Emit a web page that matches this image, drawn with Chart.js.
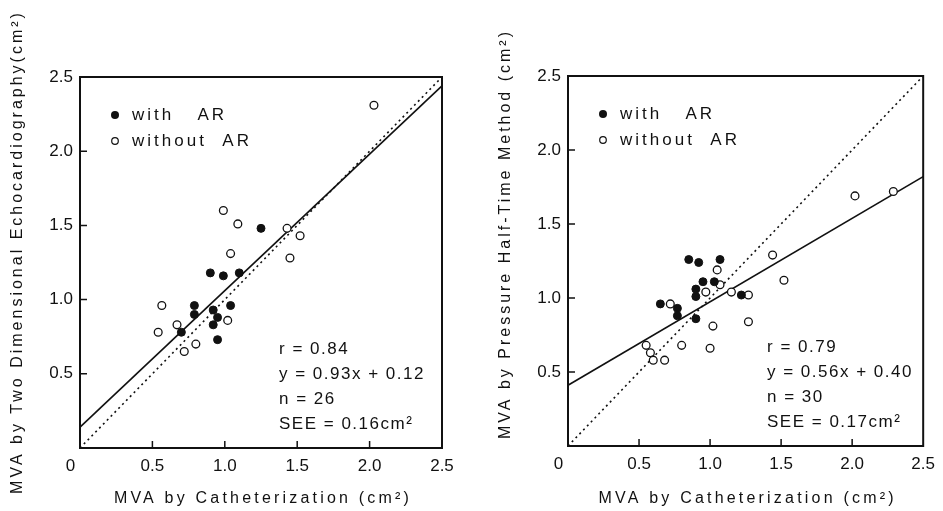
<!DOCTYPE html>
<html>
<head>
<meta charset="utf-8">
<script src="https://cdn.jsdelivr.net/npm/chart.js@4.4.1/dist/chart.umd.min.js"></script>
<style>
  html, body { margin: 0; padding: 0; background: #fff; }
  #wrap { position: relative; width: 943px; height: 511px; }
  canvas { position: absolute; top: 0; }
</style>
</head>
<body>
<div id="wrap">
  <canvas id="left" width="471" height="511" style="left:0"></canvas>
  <canvas id="right" width="472" height="511" style="left:471px"></canvas>
</div>
<script>
const xTicks = [0, 0.5, 1.0, 1.5, 2.0, 2.5];
const yTicks = [0.5, 1.0, 1.5, 2.0, 2.5];

// left panel: 2D echo vs catheterization
const echoWithX = [1.25, 0.90, 0.99, 1.10, 0.79, 0.79, 0.92, 0.95, 0.92, 1.04, 0.95, 0.70];
const echoWithY = [1.48, 1.18, 1.16, 1.18, 0.96, 0.90, 0.93, 0.88, 0.83, 0.96, 0.73, 0.78];
const echoWithoutX = [0.99, 1.09, 1.43, 1.52, 1.45, 1.04, 0.565, 1.02, 0.67, 0.54, 0.80, 0.72, 2.03];
const echoWithoutY = [1.60, 1.51, 1.48, 1.43, 1.28, 1.31, 0.96, 0.86, 0.83, 0.78, 0.70, 0.65, 2.31];
const echoFitX = [0, 2.5];
const echoFitY = [0.14, 2.44];

// right panel: pressure half-time vs catheterization
const phtWithX = [0.85, 0.92, 1.07, 0.95, 1.03, 0.90, 0.90, 0.65, 0.77, 0.77, 0.90, 1.22];
const phtWithY = [1.26, 1.24, 1.26, 1.11, 1.11, 1.06, 1.01, 0.96, 0.93, 0.88, 0.86, 1.02];
const phtWithoutX = [1.05, 1.07, 0.97, 1.15, 0.72, 1.02, 0.80, 1.00, 0.55, 0.58, 0.60, 0.68, 2.02, 2.29, 1.44, 1.52, 1.27, 1.27];
const phtWithoutY = [1.19, 1.09, 1.04, 1.04, 0.96, 0.81, 0.68, 0.66, 0.68, 0.63, 0.58, 0.58, 1.69, 1.72, 1.29, 1.12, 1.02, 0.84];
const phtFitX = [0, 2.5];
const phtFitY = [0.41, 1.82];

const identityX = [0, 2.5];
const identityY = [0, 2.5];

const FONT = '"Liberation Sans", Arial, Helvetica, sans-serif';
Chart.defaults.font.family = FONT;
Chart.defaults.color = '#111';

function pts(xs, ys) {
    return xs.map((x, i) => ({ x: x, y: ys[i] }));
}

// box, inward ticks, titles, legend and stats text
const framePlugin = {
    id: 'frame',
    afterDraw(chart, args, o) {
        const { ctx, chartArea: a, scales } = chart;
        ctx.save();
        ctx.strokeStyle = '#111';
        ctx.lineWidth = 2;
        ctx.strokeRect(a.left, a.top, a.right - a.left, a.bottom - a.top);

        ctx.lineWidth = 1.5;
        ctx.beginPath();
        xTicks.forEach(v => {
            if (v === 0 || v === 2.5) return;
            const px = scales.x.getPixelForValue(v);
            ctx.moveTo(px, a.bottom);
            ctx.lineTo(px, a.bottom - 7);
        });
        yTicks.forEach(v => {
            if (v === 2.5) return;
            const py = scales.y.getPixelForValue(v);
            ctx.moveTo(a.left, py);
            ctx.lineTo(a.left + 7, py);
        });
        ctx.stroke();

        ctx.fillStyle = '#111';
        ctx.textBaseline = 'middle';

        // axis titles
        ctx.font = '16px ' + FONT;
        ctx.letterSpacing = '3.2px';
        ctx.textAlign = 'center';
        ctx.fillText(o.xTitle, (a.left + a.right) / 2 + 2, 499);
        ctx.letterSpacing = '3px';
        ctx.save();
        ctx.translate(a.left - 62, o.yTitleY);
        ctx.rotate(-Math.PI / 2);
        ctx.fillText(o.yTitle, 0, 0);
        ctx.restore();

        // legend
        const lx = a.left + 35;
        const ly = a.top + o.legendTop;
        ctx.beginPath();
        ctx.arc(lx, ly, 4, 0, Math.PI * 2);
        ctx.fill();
        ctx.beginPath();
        ctx.lineWidth = 1.2;
        ctx.arc(lx, ly + 26, 3.3, 0, Math.PI * 2);
        ctx.stroke();
        ctx.font = '17px ' + FONT;
        ctx.letterSpacing = '3px';
        ctx.textAlign = 'left';
        ctx.fillText('with   AR', lx + 17, ly);
        ctx.fillText('without  AR', lx + 17, ly + 26);

        // regression stats
        ctx.letterSpacing = '1.5px';
        const sx = a.left + 199;
        o.stats.forEach((t, i) => {
            ctx.fillText(t, sx, a.bottom - 99 + i * 25);
        });
        ctx.restore();
    }
};

function makeChart(id, d) {
    return new Chart(document.getElementById(id), {
        type: 'scatter',
        data: {
            datasets: [
                {
                    label: 'with AR',
                    data: pts(d.withX, d.withY),
                    pointRadius: 4,
                    pointBackgroundColor: '#111',
                    pointBorderColor: '#111',
                    pointBorderWidth: 1
                },
                {
                    label: 'without AR',
                    data: pts(d.withoutX, d.withoutY),
                    pointRadius: 3.9,
                    pointBackgroundColor: '#fff',
                    pointBorderColor: '#111',
                    pointBorderWidth: 1.3
                },
                {
                    type: 'line',
                    label: 'regression',
                    data: pts(d.fitX, d.fitY),
                    borderColor: '#111',
                    borderWidth: 1.7,
                    pointRadius: 0,
                    fill: false
                },
                {
                    type: 'line',
                    label: 'identity',
                    data: pts(identityX, identityY),
                    borderColor: '#111',
                    borderWidth: 1.6,
                    borderDash: [2, 3.5],
                    pointRadius: 0,
                    fill: false
                }
            ]
        },
        options: {
            responsive: false,
            animation: false,
            layout: { padding: { top: d.top, right: d.right, left: 0, bottom: 0 } },
            plugins: {
                legend: { display: false },
                tooltip: { enabled: false },
                frame: {
                    xTitle: 'MVA by Catheterization (cm\u00b2)',
                    yTitle: d.yTitle,
                    yTitleY: d.yTitleY,
                    legendTop: 38,
                    stats: d.stats
                }
            },
            scales: {
                x: {
                    type: 'linear',
                    min: 0,
                    max: 2.5,
                    afterBuildTicks: s => { s.ticks = xTicks.map(v => ({ value: v })); },
                    afterFit: s => { s.height = d.xAxisH; },
                    grid: { display: false, drawTicks: false },
                    border: { display: false },
                    ticks: {
                        font: { size: 17 },
                        padding: 8,
                        maxRotation: 0,
                        autoSkip: false,
                        // the origin label sits a little left of the corner
                        callback: v => v === 0 ? '0\u00a0\u00a0\u00a0\u00a0' : v.toFixed(1)
                    }
                },
                y: {
                    type: 'linear',
                    min: 0,
                    max: 2.5,
                    afterBuildTicks: s => { s.ticks = yTicks.map(v => ({ value: v })); },
                    afterFit: s => { s.width = d.yAxisW; },
                    grid: { display: false, drawTicks: false },
                    border: { display: false },
                    ticks: {
                        font: { size: 17 },
                        padding: 7,
                        autoSkip: false,
                        callback: v => v.toFixed(1)
                    }
                }
            }
        },
        plugins: [framePlugin]
    });
}

makeChart('left', {
    withX: echoWithX, withY: echoWithY,
    withoutX: echoWithoutX, withoutY: echoWithoutY,
    fitX: echoFitX, fitY: echoFitY,
    top: 77, right: 29, xAxisH: 63, yAxisW: 80,
    yTitle: 'MVA by Two Dimensional Echocardiography(cm\u00b2)',
    yTitleY: 252,
    stats: ['r = 0.84', 'y = 0.93x + 0.12', 'n = 26', 'SEE = 0.16cm\u00b2']
});

makeChart('right', {
    withX: phtWithX, withY: phtWithY,
    withoutX: phtWithoutX, withoutY: phtWithoutY,
    fitX: phtFitX, fitY: phtFitY,
    top: 76, right: 14, xAxisH: 65, yAxisW: 97,
    yTitle: 'MVA by Pressure Half-Time Method (cm\u00b2)',
    yTitleY: 234,
    stats: ['r = 0.79', 'y = 0.56x + 0.40', 'n = 30', 'SEE = 0.17cm\u00b2']
});
</script>
</body>
</html>
